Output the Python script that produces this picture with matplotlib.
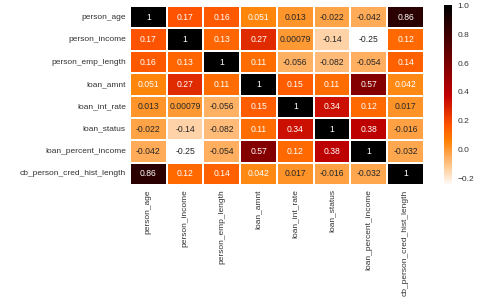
import numpy as np
import pandas as pd
import seaborn as sns
import matplotlib
matplotlib.use("Agg")
import matplotlib.pyplot as plt

# column names of the loan data
cols = ["person_age", "person_income", "person_emp_length", "loan_amnt",
        "loan_int_rate", "loan_status", "loan_percent_income",
        "cb_person_cred_hist_length"]

# correlation matrix, row by row
person_age = [1, 0.17, 0.16, 0.051, 0.013, -0.022, -0.042, 0.86]
person_income = [0.17, 1, 0.13, 0.27, 0.00079, -0.14, -0.25, 0.12]
person_emp_length = [0.16, 0.13, 1, 0.11, -0.056, -0.082, -0.054, 0.14]
loan_amnt = [0.051, 0.27, 0.11, 1, 0.15, 0.11, 0.57, 0.042]
loan_int_rate = [0.013, 0.00079, -0.056, 0.15, 1, 0.34, 0.12, 0.017]
loan_status = [-0.022, -0.14, -0.082, 0.11, 0.34, 1, 0.38, -0.016]
loan_percent_income = [-0.042, -0.25, -0.054, 0.57, 0.12, 0.38, 1, -0.032]
cb_person_cred_hist_length = [0.86, 0.12, 0.14, 0.042, 0.017, -0.016, -0.032, 1]

corr = pd.DataFrame([person_age, person_income, person_emp_length, loan_amnt,
                     loan_int_rate, loan_status, loan_percent_income,
                     cb_person_cred_hist_length], index=cols, columns=cols)

sns.set_style("white")
plt.rcParams['font.family'] = ['Liberation Sans', 'DejaVu Sans']

fig = plt.figure(figsize=(4.8, 3.03), dpi=100)
ax = fig.add_axes([0.2708, 0.389, 0.6125, 0.591])
cax = fig.add_axes([0.925, 0.386, 0.0167, 0.597])
sns.heatmap(corr, annot=True, cmap="gist_heat_r", linewidths=1.2,
            linecolor="white", ax=ax, cbar_ax=cax,
            annot_kws={"size": 6.2})
ax.tick_params(axis="both", labelsize=6.0, colors="#333333", length=0, pad=3)
plt.setp(ax.get_xticklabels(), rotation=90)
plt.setp(ax.get_yticklabels(), rotation=0)
cax.tick_params(labelsize=6.0, colors="#333333", length=0, pad=4)
cax.set_yticks([-0.2, 0.0, 0.2, 0.4, 0.6, 0.8, 1.0])
for s in cax.spines.values():
    s.set_visible(False)

fig.savefig("out.png", dpi=100)
